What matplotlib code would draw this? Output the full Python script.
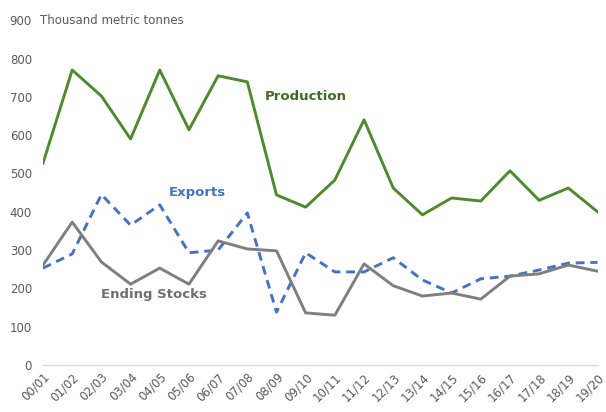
import matplotlib
matplotlib.use("Agg")
from matplotlib import pyplot as plt

years = ["00/01", "01/02", "02/03", "03/04", "04/05", "05/06", "06/07", "07/08", "08/09", "09/10",
         "10/11", "11/12", "12/13", "13/14", "14/15", "15/16", "16/17", "17/18", "18/19", "19/20"]
production = [527, 770, 702, 590, 770, 614, 755, 739, 444, 412,
              483, 640, 462, 392, 436, 428, 507, 430, 462, 400]
exports = [253, 290, 445, 365, 418, 293, 300, 397, 138, 293,
           243, 243, 280, 222, 188, 225, 232, 248, 266, 268]
ending_stocks = [261, 373, 269, 211, 253, 211, 324, 303, 298, 136,
                 130, 264, 207, 180, 188, 172, 232, 238, 261, 245]

fig = plt.figure(figsize=(6.06, 4.12), dpi=100)
ax = fig.add_axes([0.071, 0.114, 0.915, 0.837])

x = list(range(len(years)))
ax.plot(x, production, color="#4f8a2e", lw=2.1)
ax.plot(x, exports, color="#4472c4", lw=2.1, ls=(0, (3, 2)))
ax.plot(x, ending_stocks, color="#7f7f7f", lw=2.1)

ax.set_xlim(0, 19)
ax.set_ylim(0, 900)
ax.set_yticks(range(0, 901, 100))
ax.set_xticks(x)
ax.set_xticklabels(years, rotation=45, ha="right", rotation_mode="anchor")
ax.tick_params(axis="both", length=0, colors="#595959", labelsize=8.5)
ax.tick_params(axis="y", pad=8)
ax.tick_params(axis="x", pad=4)

for s in ["top", "right", "left"]:
    ax.spines[s].set_visible(False)
ax.spines["bottom"].set_color("#d9d9d9")
ax.spines["bottom"].set_linewidth(1)

ax.text(-0.1, 900, "Thousand metric tonnes", fontsize=8.5, color="#595959", va="center")
ax.text(7.6, 700, "Production", fontsize=9.5, fontweight="bold", color="#3e6b23", va="center")
ax.text(4.3, 450, "Exports", fontsize=9.5, fontweight="bold", color="#4472c4", va="center")
ax.text(2.0, 185, "Ending Stocks", fontsize=9.5, fontweight="bold", color="#6f6f6f", va="center")

fig.savefig("out.png", dpi=100)
